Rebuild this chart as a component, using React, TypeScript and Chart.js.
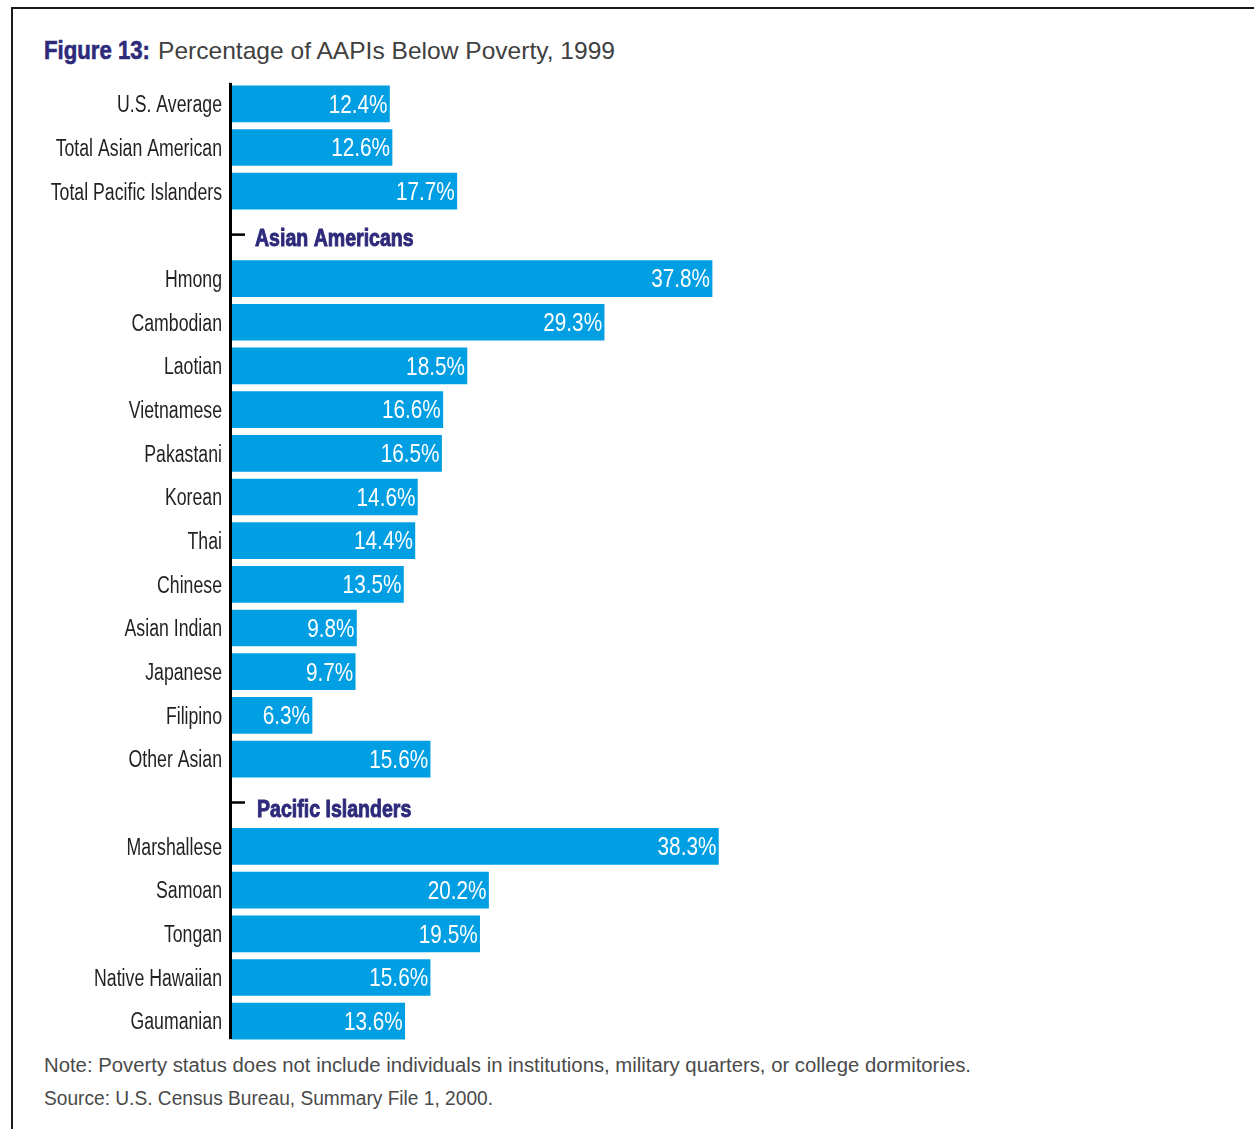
import { useEffect, useLayoutEffect, useRef } from "react";
import { Chart, registerables, type ChartConfiguration, type Plugin } from "chart.js";

Chart.register(...registerables);

const categories = [
  "U.S. Average",
  "Total Asian American",
  "Total Pacific Islanders",
  "",
  "Hmong",
  "Cambodian",
  "Laotian",
  "Vietnamese",
  "Pakastani",
  "Korean",
  "Thai",
  "Chinese",
  "Asian Indian",
  "Japanese",
  "Filipino",
  "Other Asian",
  "",
  "Marshallese",
  "Samoan",
  "Tongan",
  "Native Hawaiian",
  "Gaumanian",
];

const povertyRates: (number | null)[] = [
  12.4, 12.6, 17.7, null, 37.8, 29.3, 18.5, 16.6, 16.5, 14.6, 14.4, 13.5, 9.8, 9.7, 6.3, 15.6,
  null, 38.3, 20.2, 19.5, 15.6, 13.6,
];

const headerRows = [3, 16];
const headerTitles = ["Asian Americans", "Pacific Islanders"];

const SANS = '"Liberation Sans", Arial, sans-serif';
const BAR = "#009FE3";
const NAVY = "#2E2A7B";
const INK = "#231F20";
const BAR_THICK = 36;

// draw condensed text by squeezing a regular face horizontally
function squeezed(
  ctx: CanvasRenderingContext2D,
  text: string,
  x: number,
  y: number,
  sx: number,
  align: CanvasTextAlign,
  stroke = 0
) {
  ctx.save();
  ctx.translate(x, y);
  ctx.scale(sx, 1);
  ctx.textAlign = align;
  ctx.fillText(text, 0, 0);
  if (stroke > 0) {
    ctx.lineWidth = stroke;
    ctx.strokeStyle = ctx.fillStyle;
    ctx.strokeText(text, 0, 0);
  }
  ctx.restore();
}

const extras: Plugin<"bar"> = {
  id: "extras",
  afterDatasetsDraw(chart) {
    const { ctx, scales } = chart;
    const x = scales.x;
    const y = scales.y;
    const left = chart.chartArea.left;
    ctx.save();
    ctx.textBaseline = "alphabetic";

    // category labels
    ctx.fillStyle = INK;
    ctx.font = `23px ${SANS}`;
    categories.forEach((name, i) => {
      if (!name) return;
      squeezed(ctx, name, left - 10, y.getPixelForValue(i) + 8.3, 0.77, "right");
    });

    // value labels
    ctx.fillStyle = "#ffffff";
    ctx.font = `25px ${SANS}`;
    povertyRates.forEach((v, i) => {
      if (v == null) return;
      squeezed(ctx, `${v.toFixed(1)}%`, x.getPixelForValue(v) - 2, y.getPixelForValue(i) + 8.8, 0.83, "right");
    });

    // axis line from first bar top to last bar bottom
    const top = y.getPixelForValue(0) - BAR_THICK / 2 - 3;
    const bottom = y.getPixelForValue(categories.length - 1) + BAR_THICK / 2;
    ctx.fillStyle = "#000";
    ctx.fillRect(left - 3, top, 3, bottom - top);

    // section headers
    headerRows.forEach((row, k) => {
      const cy = y.getPixelForValue(row);
      ctx.fillStyle = "#000";
      ctx.fillRect(left, cy - 1.5, 13, 2.5);
      ctx.fillStyle = NAVY;
      ctx.font = `bold 23px ${SANS}`;
      squeezed(ctx, headerTitles[k], left + 23 + k * 2, cy + 3 + k * 3 + 8, 0.85, "left", 0.9);
    });
    ctx.restore();
  },
};

type FitProps = {
  text: string;
  left: number;
  top: number;
  width: number;
  size: number;
  color: string;
  bold?: boolean;
};

function FitText({ text, left, top, width, size, color, bold }: FitProps) {
  const ref = useRef<HTMLDivElement>(null);
  useLayoutEffect(() => {
    const el = ref.current;
    if (!el) return;
    el.style.transform = "none";
    const w = el.getBoundingClientRect().width;
    if (w > 0) el.style.transform = `scaleX(${width / w})`;
  }, [text, width, size]);
  return (
    <div
      ref={ref}
      style={{
        position: "absolute",
        left,
        top,
        lineHeight: 1,
        whiteSpace: "nowrap",
        fontFamily: SANS,
        fontSize: size,
        fontWeight: bold ? "bold" : "normal",
        WebkitTextStroke: bold ? `0.6px ${color}` : undefined,
        color,
        transformOrigin: "0 0",
      }}
    >
      {text}
    </div>
  );
}

export default function App() {
  const canvasRef = useRef<HTMLCanvasElement>(null);
  const chartRef = useRef<Chart | null>(null);

  useEffect(() => {
    document.body.style.margin = "0";
    if (!canvasRef.current) return;
    chartRef.current?.destroy();

    const cfg: ChartConfiguration<"bar"> = {
      type: "bar",
      data: {
        labels: categories,
        datasets: [
          {
            data: povertyRates,
            backgroundColor: BAR,
            barThickness: BAR_THICK,
            borderWidth: 0,
          },
        ],
      },
      options: {
        indexAxis: "y",
        responsive: true,
        maintainAspectRatio: false,
        animation: false,
        layout: { padding: { left: 0, right: 260, top: 0, bottom: 0 } },
        plugins: {
          legend: { display: false },
          tooltip: { enabled: false },
        },
        scales: {
          x: { display: false, min: 0, max: 60 },
          y: {
            afterFit: (scale) => {
              scale.width = 232;
              scale.paddingTop = 0;
              scale.paddingBottom = 0;
            },
            grid: { display: false, drawTicks: false },
            border: { display: false },
            ticks: { display: false },
          },
        },
      },
      plugins: [extras],
    };

    chartRef.current = new Chart(canvasRef.current, cfg);
    return () => {
      chartRef.current?.destroy();
    };
  }, []);

  return (
    <div style={{ position: "relative", width: 1254, height: 1129, background: "#fff", overflow: "hidden" }}>
      <div
        style={{
          position: "absolute",
          left: 11,
          top: 7,
          right: 0,
          bottom: 0,
          borderTop: "2px solid #1a1a1a",
          borderLeft: "2px solid #1a1a1a",
        }}
      />
      <FitText text="Figure 13:" left={44} top={38} width={106} size={25} color={NAVY} bold />
      <FitText text="Percentage of AAPIs Below Poverty, 1999" left={158} top={39} width={457} size={24} color="#404040" />
      <div style={{ position: "absolute", left: 0, top: 82, width: 1254, height: 961 }}>
        <canvas ref={canvasRef} />
      </div>
      <FitText
        text="Note: Poverty status does not include individuals in institutions, military quarters, or college dormitories."
        left={44}
        top={1055}
        width={927}
        size={20}
        color="#4a4a4a"
      />
      <FitText text="Source: U.S. Census Bureau, Summary File 1, 2000." left={44} top={1088} width={449} size={20} color="#4a4a4a" />
    </div>
  );
}
